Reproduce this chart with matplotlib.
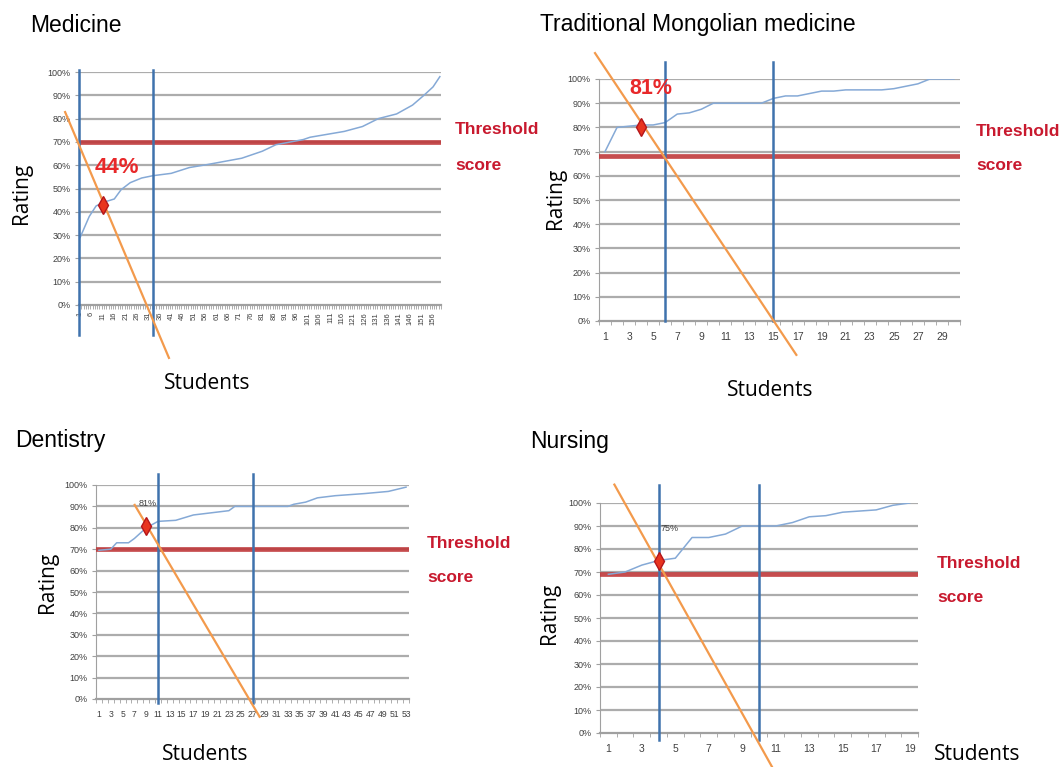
import matplotlib
matplotlib.use('Agg')
import matplotlib.pyplot as plt
from matplotlib.ticker import FixedLocator

# ---- data (rating in %) ----
# Medicine, 159 students
med_students = [1, 5, 8, 11, 16, 19, 23, 28, 33, 41, 49, 57, 72, 81, 87, 99, 102, 117, 125, 132, 140, 147, 152, 156, 159]
med_rating = [29, 38, 42.5, 44, 45.5, 49.5, 52.5, 54.5, 55.5, 56.5, 59, 60.3, 63, 66, 68.8, 71, 72, 74.5, 76.6, 80, 82, 85.8, 90, 93.6, 98]
med_threshold = 70
med_blue = [0.5, 33]
med_orange_x = [-5.6, 40]
med_orange_y = [82.8, -22.7]
med_mark = (11, 43)
med_pct = '44%'

# Traditional Mongolian medicine, 30 students
tmm_students = list(range(1, 31))
tmm_rating = [70, 80, 80.5, 81, 81, 82, 85.5, 86, 87.5, 90, 90, 90, 90, 90, 92,
              93, 93, 94, 95, 95, 95.5, 95.5, 95.5, 95.5, 96, 97, 98, 100, 100, 100]
tmm_threshold = 68
tmm_blue = [6, 15]
tmm_orange_x = [0.17, 16.9]
tmm_orange_y = [110.7, -14]
tmm_mark = (4, 80)
tmm_pct = '81%'

# Dentistry, 53 students
den_students = [1, 3, 4, 6, 7, 9, 11, 14, 17, 20, 23, 24, 33, 34, 36, 38, 41, 46, 50, 53]
den_rating = [69.5, 70, 73, 73, 75, 80, 83, 83.5, 86, 87, 88, 90, 90, 91, 92, 94, 95, 96, 97, 99]
den_threshold = 70
den_blue = [11, 27]
den_orange_x = [7.05, 28.2]
den_orange_y = [90.7, -8.3]
den_mark = (9, 81)
den_pct = '81%'

# Nursing, 19 students
nur_students = list(range(1, 20))
nur_rating = [69, 70, 73, 75, 76, 85, 85, 86.5, 90, 90, 90, 91.5, 94, 94.5, 96, 96.5, 97, 99, 100]
nur_threshold = 69
nur_blue = [4, 10]
nur_orange_x = [1.36, 10.8]
nur_orange_y = [108, -15]
nur_mark = (4, 75)
nur_pct = '75%'

W, H = 1061, 767
fig = plt.figure(figsize=(W / 100, H / 100), dpi=100)
fig.patch.set_facecolor('white')

SANS = ['Liberation Sans', 'DejaVu Sans']
LABEL = ['Open Sans', 'DejaVu Sans']


def fx(x):
    return x / W


def fy(y):
    return 1 - y / H


def rect(x0, y0, x1, y1):
    return [fx(x0), fy(y1), (x1 - x0) / W, (y1 - y0) / H]


def panel(r, n, students, rating, threshold, blue, blue_top, blue_bot,
          ox, oy, mark, label_step, rotate=False, tick_fs=7.5):
    ax = fig.add_axes(r)
    ax.set_xlim(0.5, n + 0.5)
    ax.set_ylim(0, 100)
    ax.set_yticks(range(0, 101, 10))
    ax.set_yticklabels([f'{v}%' for v in range(0, 101, 10)], family=SANS,
                       fontsize=6.5, color='#404040')
    for v in range(10, 101, 10):
        ax.axhline(v, color='#acacac', lw=1.6, zorder=1)
    for s in ['top', 'right']:
        ax.spines[s].set_visible(False)
    ax.spines['left'].set_color('#a0a0a0')
    ax.spines['bottom'].set_color('#a0a0a0')
    ax.spines['bottom'].set_linewidth(1.6)
    ax.tick_params(axis='y', length=3, color='#a0a0a0', pad=3)
    labs = list(range(1, n + 1, label_step))
    ax.set_xticks(labs)
    ax.set_xticklabels([str(v) for v in labs], family=SANS, fontsize=tick_fs,
                       color='#404040', rotation=90 if rotate else 0)
    ax.tick_params(axis='x', length=0, pad=5 if rotate else 8)
    ax.xaxis.set_minor_locator(FixedLocator([i + 0.5 for i in range(0, n + 1)]))
    ax.tick_params(axis='x', which='minor', length=3, color='#a0a0a0', direction='out')

    ax.axhline(threshold, color='#c0393b', lw=3.4, zorder=3, alpha=0.9)
    ax.plot(students, rating, color='#85a9d6', lw=1.1, zorder=4)
    for b in blue:
        ax.plot([b, b], [blue_bot, blue_top], color='#3f72ad', lw=1.8, zorder=5, clip_on=False)
    ax.plot(ox, oy, color='#f39a4c', lw=1.6, zorder=6, clip_on=False)
    ax.plot([mark[0]], [mark[1]], marker='d', ms=9, color='#e8341f',
            mec='#b4161b', mew=1, zorder=7, clip_on=False)
    return ax


ax1 = panel(rect(79, 72, 441, 305), 159, med_students, med_rating, med_threshold,
            med_blue, 101, -13, med_orange_x, med_orange_y, med_mark, 5,
            rotate=True, tick_fs=5.5)
ax2 = panel(rect(599, 79, 960, 321), 30, tmm_students, tmm_rating, tmm_threshold,
            tmm_blue, 107, 0, tmm_orange_x, tmm_orange_y, tmm_mark, 2)
ax3 = panel(rect(96, 485, 409, 699), 53, den_students, den_rating, den_threshold,
            den_blue, 105, -2, den_orange_x, den_orange_y, den_mark, 2, tick_fs=6.2)
ax4 = panel(rect(600, 503, 918, 733), 19, nur_students, nur_rating, nur_threshold,
            nur_blue, 108, -3, nur_orange_x, nur_orange_y, nur_mark, 2)

# percentage annotations
ax1.text(17, 58.8, med_pct, color='#e8282a', fontsize=16, fontweight='bold',
         family=SANS, ha='center', va='center', zorder=8)
ax2.text(4.8, 96, tmm_pct, color='#e8282a', fontsize=15.5, fontweight='bold',
         family=SANS, ha='center', va='center', zorder=8, clip_on=False)
ax3.text(9.2, 91.5, den_pct, color='#404040', fontsize=6.5, family=SANS,
         ha='center', va='center', zorder=8)
ax4.text(4.65, 89, nur_pct, color='#404040', fontsize=6.5, family=SANS,
         ha='center', va='center', zorder=8)

# titles
fig.text(fx(30), fy(25), 'Medicine', fontsize=16.5, family=SANS, va='center')
fig.text(fx(540), fy(25), 'Traditional Mongolian medicine', fontsize=16.5,
         family=SANS, va='center')
fig.text(fx(15), fy(440), 'Dentistry', fontsize=16.5, family=SANS, va='center')
fig.text(fx(530), fy(441), 'Nursing', fontsize=16.5, family=SANS, va='center')

# axis titles
for x, y in [(21, 193), (555, 198), (47, 582), (549, 613)]:
    fig.text(fx(x), fy(y), 'Rating', fontsize=15, family=LABEL, rotation=90,
             ha='center', va='center')
for x, y in [(207, 383), (770, 390), (205, 755), (977, 755)]:
    fig.text(fx(x), fy(y), 'Students', fontsize=15, family=LABEL,
             ha='center', va='center')

# threshold labels
for x, y1, y2 in [(455, 130, 165), (976, 132, 165), (427, 543, 577), (937, 563, 598)]:
    fig.text(fx(x), fy(y1), 'Threshold', fontsize=12.5, fontweight='bold', family=SANS,
             color='#c8192e', va='center')
    fig.text(fx(x), fy(y2), 'score', fontsize=12.5, fontweight='bold', family=SANS,
             color='#c8192e', va='center')

fig.savefig('out.png', dpi=100, facecolor='white')
